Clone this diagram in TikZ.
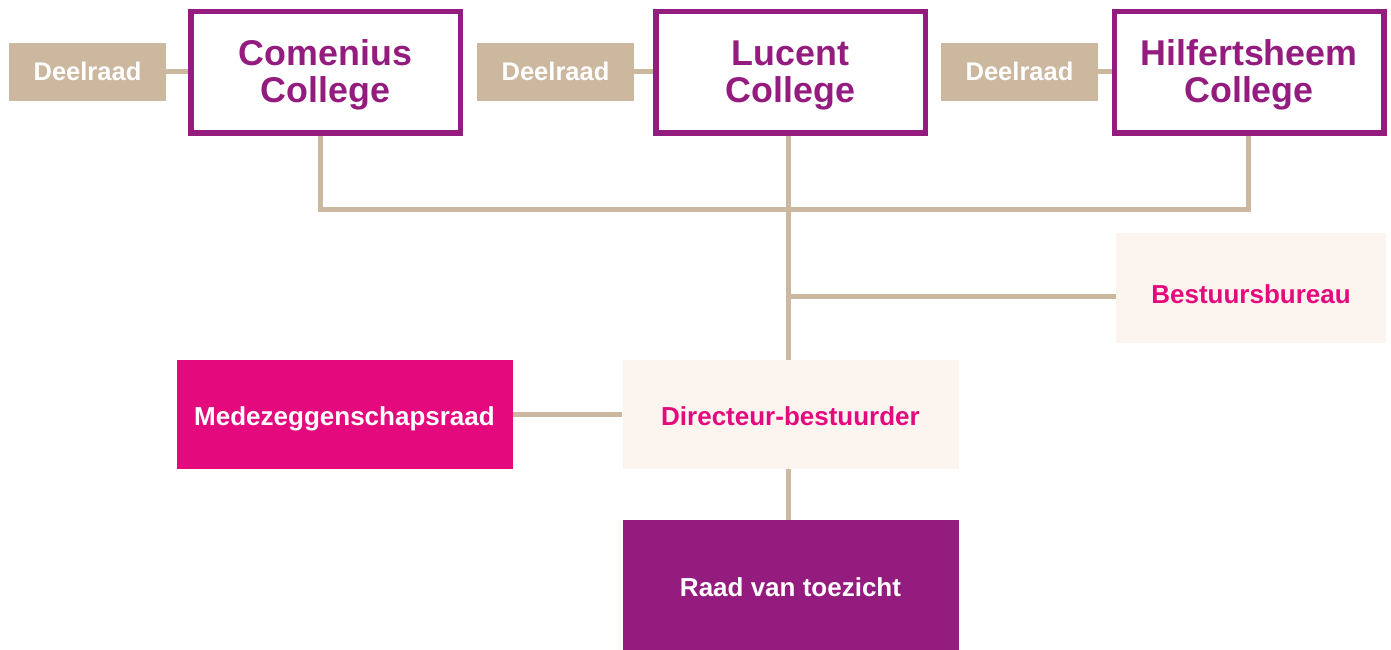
\documentclass[tikz,border=0pt]{standalone}
\usepackage{fontspec}
\setmainfont{Liberation Sans}
\usetikzlibrary{backgrounds}
\definecolor{tanc}{HTML}{CCB89F}
\definecolor{purp}{HTML}{951C7F}
\definecolor{mag}{HTML}{E40A7E}
\definecolor{cream}{HTML}{FCF4EF}
\newcommand{\twolines}[2]{\begin{tabular}[t]{@{}c@{}}#1\\[0pt]#2\end{tabular}}
\begin{document}
\begin{tikzpicture}[x=1pt,y=-1pt,
  conn/.style={draw=tanc, line width=5pt},
  deel/.style={fill=tanc, text=white, minimum width=157pt, minimum height=58pt, inner sep=0pt,
    font=\fontsize{25.5}{28}\selectfont\bfseries, text height=16.8pt, text depth=0pt},
  college/.style={draw=purp, line width=5.5pt, fill=white, minimum width=269.5pt, minimum height=121.5pt,
    inner sep=0pt, text=purp, font=\fontsize{35.8}{35.3}\selectfont\bfseries,
    text height=26pt, text depth=39.6pt},
  single/.style={inner sep=0pt, font=\fontsize{26}{28}\selectfont\bfseries, text height=22pt, text depth=0pt},
  lightbox/.style={single, fill=cream, text=mag},
  magbox/.style={single, fill=mag, text=white},
  purpbox/.style={single, fill=purp, text=white}
]
\useasboundingbox (0,0) rectangle (1391,650);

\node[deel] (d1) at (87.5,72) {Deelraad};
\node[deel] (d2) at (555.5,72) {Deelraad};
\node[deel] (d3) at (1019.5,72) {Deelraad};

\node[college] (com) at (325.5,72.5) {\twolines{Comenius}{College}};
\node[college] (luc) at (790.5,72.5) {\twolines{Lucent}{College}};
\node[college] (hil) at (1249,72.5) {\twolines{Hilfertsheem}{College}};

\node[lightbox, minimum width=270pt, minimum height=110pt, text height=30.7pt] (bb) at (1251,288) {Bestuursbureau};
\node[lightbox, minimum width=336pt, minimum height=109pt] (dir) at (790.5,414.5) {Directeur-bestuurder};
\node[magbox, minimum width=336pt, minimum height=109pt] (mr) at (344.5,414.5) {Medezeggenschapsraad};
\node[purpbox, minimum width=336pt, minimum height=130pt] (rvt) at (790.5,585) {Raad van toezicht};

\coordinate (j1) at (320,209);
\coordinate (j2) at (788,209);
\coordinate (j3) at (1248,209);
\coordinate (jb) at (788,296);

\begin{scope}[on background layer]
\draw[conn] (d1.east) -- (d1.east -| com.west);
\draw[conn] (d2.east) -- (d2.east -| luc.west);
\draw[conn] (d3.east) -- (d3.east -| hil.west);
\draw[conn] (com.south -| j1) -- (j1) -- (j3) -- (hil.south -| j3);
\draw[conn] (luc.south -| j2) -- (dir.north -| j2);
\draw[conn] (jb) -- (bb.west |- jb);
\draw[conn] (mr.east) -- (dir.west);
\draw[conn] (dir.south -| j2) -- (rvt.north -| j2);
\end{scope}
\end{tikzpicture}
\end{document}
